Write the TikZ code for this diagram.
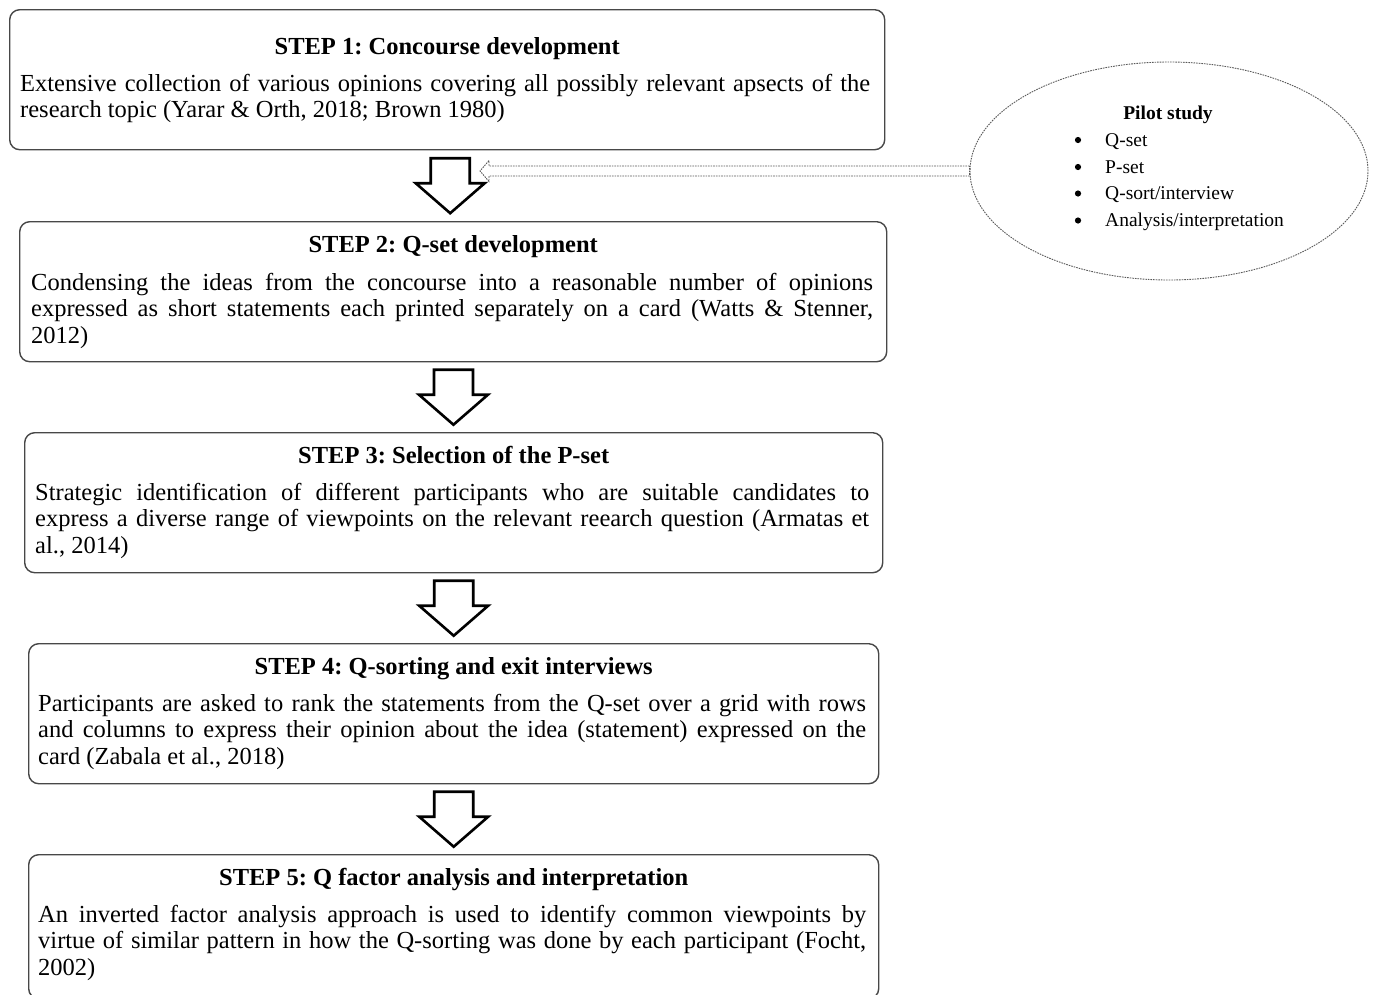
\documentclass[tikz,border=0pt]{standalone}
\usepackage{fontspec}
\setmainfont{Liberation Serif}
\usetikzlibrary{shapes.geometric,calc}
\tikzset{
  stepbox/.style={draw=black!72, line width=1.4pt, rounded corners=10pt, inner sep=0pt, anchor=north west},
  steptitle/.style={anchor=base, inner sep=0pt, font=\fontsize{24.5}{26.7}\selectfont\bfseries},
  stepbody/.style={anchor=north west, inner sep=0pt, align=justify, font=\fontsize{24.5}{26.7}\selectfont},
  blockarrow/.style={draw=black, line width=2.6pt, fill=white, line join=miter},
  downarrow/.pic={\draw[blockarrow] (-19.5,-27.5) -- (19.5,-27.5) -- (19.5,-2.5) -- (34.5,-2.5) -- (0,27.5) -- (-34.5,-2.5) -- (-19.5,-2.5) -- cycle;},
  pilotline/.style={draw=black!65, line width=0.9pt, dash pattern=on 1.6pt off 1pt},
  pilottext/.style={inner sep=0pt, font=\fontsize{19.5}{24}\selectfont},
  bulletdot/.style={circle, fill=black, inner sep=0pt, minimum size=6.2pt},
}
\begin{document}
\frenchspacing
\begin{tikzpicture}[x=1pt,y=-1pt]
\useasboundingbox (0,0) rectangle (1373,994);
\hyphenpenalty=10000
\tolerance=10000

% boxes
\node[stepbox, minimum width=875pt, minimum height=140pt] (b1) at (9,9) {};
\node[stepbox, minimum width=867pt, minimum height=140pt] (b2) at (19,221) {};
\node[stepbox, minimum width=858pt, minimum height=140pt] (b3) at (24,432) {};
\node[stepbox, minimum width=850pt, minimum height=140pt] (b4) at (28,643) {};
\node[stepbox, minimum width=850pt, minimum height=144pt] (b5) at (28,854) {};

% titles
\node[steptitle] (t1) at (b1.north |- 0,54) {STEP 1: Concourse development};
\node[steptitle] (t2) at (b2.north |- 0,252) {STEP 2: Q-set development};
\node[steptitle] (t3) at (b3.north |- 0,463) {STEP 3: Selection of the P-set};
\node[steptitle] (t4) at (b4.north |- 0,674) {STEP 4: Q-sorting and exit interviews};
\node[steptitle] (t5) at (b5.north |- 0,885) {STEP 5: Q factor analysis and interpretation};

% bodies
\node[stepbody, text width=850pt] (d1) at (20,72.3) {\strut Extensive collection of various opinions covering all possibly relevant apsects of the\linebreak research topic (Yarar \& Orth, 2018; Brown 1980)\strut};
\node[stepbody, text width=842pt] (d2) at (31,271.3) {\strut Condensing the ideas from the concourse into a reasonable number of opinions\linebreak expressed as short statements each printed separately on a card (Watts \& Stenner,\linebreak 2012)\strut};
\node[stepbody, text width=834pt] (d3) at (35,481.3) {\strut Strategic identification of different participants who are suitable candidates to\linebreak express a diverse range of viewpoints on the relevant reearch question (Armatas et\linebreak al., 2014)\strut};
\node[stepbody, text width=828pt] (d4) at (38,692.3) {\strut Participants are asked to rank the statements from the Q-set over a grid with rows\linebreak and columns to express their opinion about the idea (statement) expressed on the\linebreak card (Zabala et al., 2018)\strut};
\node[stepbody, text width=828pt] (d5) at (38,903.3) {\strut An inverted factor analysis approach is used to identify common viewpoints by\linebreak virtue of similar pattern in how the Q-sorting was done by each participant (Focht,\linebreak 2002)\strut};

% block arrows
\pic at ($(b1.south)!0.5!(b2.north)$) {downarrow};
\pic at ($(b2.south)!0.5!(b3.north)$) {downarrow};
\pic at ($(b3.south)!0.5!(b4.north)$) {downarrow};
\pic at ($(b4.south)!0.5!(b5.north)$) {downarrow};

% pilot study ellipse
\node[ellipse, pilotline, minimum width=398pt, minimum height=218pt, inner sep=0pt] (pilot) at (1169,171) {};
\node[pilottext, anchor=base, font=\fontsize{19.5}{24}\selectfont\bfseries] (ptitle) at (1168,119.5) {Pilot study};
\node[bulletdot] (pb1) at (1078,140) {};
\node[pilottext, anchor=base west] (pi1) at (1105,146) {Q-set};
\node[bulletdot] (pb2) at (1078,167) {};
\node[pilottext, anchor=base west] (pi2) at (1105,173) {P-set};
\node[bulletdot] (pb3) at (1078,193.5) {};
\node[pilottext, anchor=base west] (pi3) at (1105,199) {Q-sort/interview};
\node[bulletdot] (pb4) at (1078,220.5) {};
\node[pilottext, anchor=base west] (pi4) at (1105,226) {Analysis/interpretation};

% dashed hollow arrow from pilot study to step flow
\coordinate (ptip) at (480,171);
\draw[pilotline, fill=white] ($(pilot.west)+(0,-5)$) -- ($(ptip)+(9,-5)$) -- ($(ptip)+(9,-10.5)$) -- (ptip) -- ($(ptip)+(9,10.5)$) -- ($(ptip)+(9,5)$) -- ($(pilot.west)+(0,5)$) -- cycle;
\end{tikzpicture}
\end{document}
